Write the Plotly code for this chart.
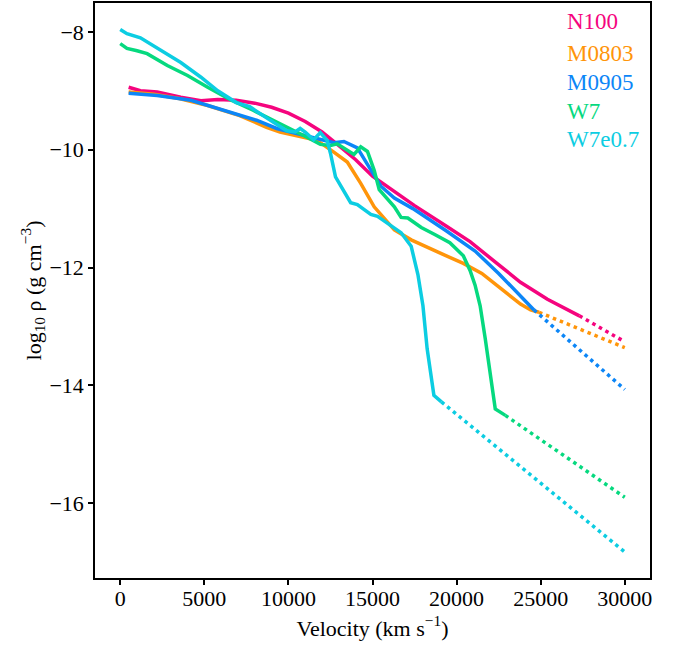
import plotly.graph_objects as go

# ---------------- data ----------------
models = ["N100", "M0803", "M0905", "W7", "W7e0.7"]
colors = ["#f5047e", "#ff950a", "#0c86f7", "#06d97f", "#0ccde2"]

n100_v = [500, 1200, 2200, 3600, 4800, 5800, 6900, 8000, 9000, 10000, 11000, 12000, 13000,
          14000, 15000, 16000, 17500, 19400, 20800, 22400, 23800, 25400, 27300]
n100_rho = [-8.94, -9.00, -9.02, -9.11, -9.17, -9.15, -9.16, -9.21, -9.28, -9.38, -9.52, -9.70, -9.93,
            -10.17, -10.45, -10.65, -10.95, -11.30, -11.56, -11.93, -12.25, -12.54, -12.82]

m0803_v = [500, 2000, 3500, 5200, 7100, 8700, 9500, 10500, 11700, 12700, 13500, 14300, 15100,
           16300, 17300, 18900, 20400, 21500, 22600, 23800, 24400, 24900]
m0803_rho = [-9.02, -9.06, -9.13, -9.25, -9.42, -9.62, -9.70, -9.76, -9.84, -10.04, -10.21, -10.57, -10.97,
             -11.36, -11.53, -11.74, -11.93, -12.10, -12.35, -12.62, -12.72, -12.76]

m0905_v = [500, 2200, 4200, 6200, 8100, 9300, 10500, 12100, 12700, 13300, 14100, 14700, 15500,
           16300, 17400, 19400, 21100, 22500, 23800, 24600]
m0905_rho = [-9.04, -9.08, -9.16, -9.33, -9.50, -9.64, -9.73, -9.84, -9.88, -9.86, -9.97, -10.25, -10.62,
             -10.82, -11.00, -11.38, -11.72, -12.10, -12.48, -12.72]

w7_v = [0, 400, 1000, 1600, 2800, 4000, 5200, 6600, 7900, 9300, 10100, 10900, 11900, 12500, 12900,
        13500, 13900, 14300, 14700, 15100, 15400, 16300, 16700, 17100, 17900, 18700, 19600, 20400,
        20800, 21100, 21400, 21700, 21950, 22300, 22900]
w7_rho = [-8.20, -8.28, -8.32, -8.37, -8.57, -8.74, -8.94, -9.16, -9.33, -9.53, -9.63, -9.76, -9.91, -9.93, -9.90,
          -10.00, -10.08, -9.95, -10.03, -10.35, -10.68, -10.97, -11.15, -11.16, -11.32, -11.44, -11.58, -11.80,
          -12.05, -12.30, -12.65, -13.20, -13.72, -14.40, -14.51]

w7e_v = [0, 400, 1200, 2200, 3600, 4800, 5800, 6900, 7700, 8700, 9900, 10400, 10700, 11000, 11500,
         11900, 12300, 12500, 12800, 13700, 14100, 14900, 15300, 15900, 16700, 17300, 17700, 18000,
         18250, 18650, 19100]
w7e_rho = [-7.96, -8.03, -8.10, -8.27, -8.52, -8.77, -9.00, -9.20, -9.27, -9.46, -9.68, -9.70, -9.64, -9.70, -9.83,
           -9.71, -9.84, -10.06, -10.46, -10.90, -10.93, -11.10, -11.13, -11.25, -11.41, -11.64, -12.12, -12.65,
           -13.38, -14.17, -14.28]

# extrapolated (dotted) end values at the outer velocity
extrap_v = 30000
extrap_rho = [-13.26, -13.36, -14.07, -15.90, -16.83]

x_ticks = [0, 5000, 10000, 15000, 20000, 25000, 30000]
x_tick_labels = ["0", "5000", "10000", "15000", "20000", "25000", "30000"]
y_ticks = [-8, -10, -12, -14, -16]
y_tick_labels = ["−8", "−10", "−12", "−14", "−16"]

series_v = [n100_v, m0803_v, m0905_v, w7_v, w7e_v]
series_rho = [n100_rho, m0803_rho, m0905_rho, w7_rho, w7e_rho]

# ---------------- figure ----------------
FONT = "Liberation Serif, Times New Roman, Times, serif"
FS = 22
LW = 3.5
fig = go.Figure()

for name, col, v, r, re in zip(models, colors, series_v, series_rho, extrap_rho):
    fig.add_trace(go.Scatter(x=v, y=r, mode="lines", name=name,
                             line=dict(color=col, width=LW), showlegend=False))
    fig.add_trace(go.Scatter(x=[v[-1], extrap_v], y=[r[-1], re], mode="lines",
                             line=dict(color=col, width=LW, dash="3.5px,4px"),
                             showlegend=False))

legend_y = [0.967, 0.913, 0.862, 0.812, 0.762]
for name, col, yy in zip(models, colors, legend_y):
    fig.add_annotation(x=0.846, y=yy, xref="paper", yref="paper", text=name,
                       showarrow=False, xanchor="left", yanchor="middle",
                       font=dict(family=FONT, size=23, color=col))

axis_common = dict(showline=True, linecolor="black", linewidth=1.5, mirror=True,
                   ticks="outside", ticklen=5, tickwidth=1.5, tickcolor="black",
                   showgrid=False, zeroline=False, automargin=False,
                   tickfont=dict(family=FONT, size=FS, color="black"))

fig.update_xaxes(range=[-1500, 31500], tickvals=x_ticks, ticktext=x_tick_labels,
                 ticklabelstandoff=-5,
                 title=dict(text="Velocity (km s<sup>−1</sup>)", standoff=10,
                            font=dict(family=FONT, size=FS, color="black")),
                 **axis_common)
fig.update_yaxes(range=[-17.27, -7.51], tickvals=y_ticks, ticktext=y_tick_labels,
                 title=dict(text="log<sub>10</sub> ρ (g cm<sup>−3</sup>)", standoff=2,
                            font=dict(family=FONT, size=FS, color="black")),
                 **axis_common)

fig.update_layout(width=676, height=648, plot_bgcolor="white", paper_bgcolor="white",
                  font=dict(family=FONT, size=FS, color="black"),
                  margin=dict(l=95, r=26, t=3, b=70), showlegend=False)

fig.write_html("out.html", config={"displayModeBar": False},
               post_script="document.body.style.margin='0';document.body.style.padding='0';")
